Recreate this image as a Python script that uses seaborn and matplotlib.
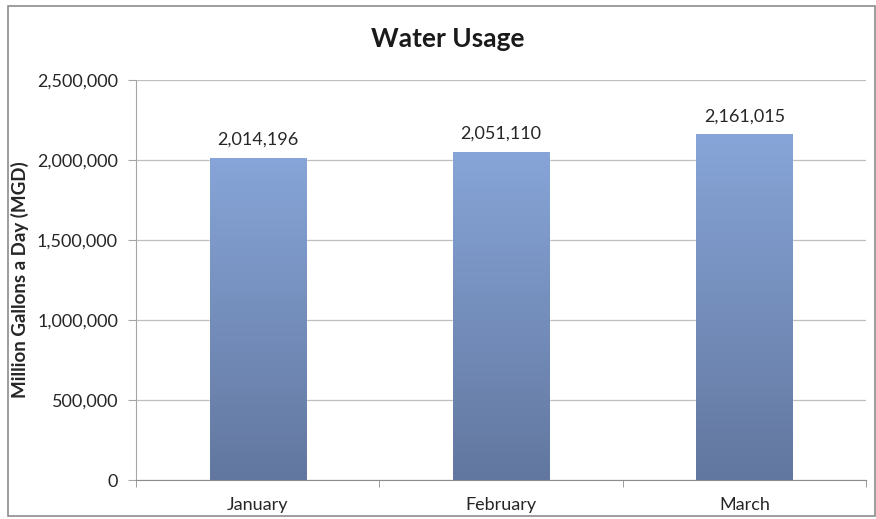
import numpy as np
import pandas as pd
import matplotlib.pyplot as plt
import matplotlib.patches as mpatches
from matplotlib.colors import LinearSegmentedColormap
from matplotlib.ticker import FuncFormatter, MultipleLocator
import seaborn as sns

# Data
months = ['January', 'February', 'March']
usage = [2014196, 2051110, 2161015]

df = pd.DataFrame({'Month': months, 'MGD': usage})

sns.set_style('white')
plt.rcParams['font.family'] = ['Lato', 'DejaVu Sans']

fig = plt.figure(figsize=(8.76, 5.19), dpi=100)
ax = fig.add_axes([0.1553, 0.0751, 0.8333, 0.7708])

sns.barplot(data=df, x='Month', y='MGD', color='#7b97c8', width=0.395, ax=ax,
            saturation=1)

ax.set_ylim(0, 2500000)
ax.set_xlim(-0.5, 2.5)
ax.yaxis.set_major_locator(MultipleLocator(500000))
ax.yaxis.set_major_formatter(FuncFormatter(lambda v, p: f'{int(v):,}'))
ax.grid(axis='y', color='#bfbfbf', linewidth=0.9)
ax.set_axisbelow(True)

# vertical gradient on each bar
cmap = LinearSegmentedColormap.from_list('bar', ['#62779f', '#87a5d8'])
grad = np.linspace(0, 1, 256).reshape(-1, 1)
for bar in list(ax.patches):
    x0, y0 = bar.get_x(), bar.get_y()
    w, h = bar.get_width(), bar.get_height()
    im = ax.imshow(grad, cmap=cmap, aspect='auto', origin='lower',
                   extent=[x0, x0 + w, y0, y0 + h], zorder=bar.get_zorder())
    im.set_clip_path(bar)
    ax.annotate(f'{int(h):,}', (x0 + w / 2, h), xytext=(0, 7),
                textcoords='offset points', ha='center', va='bottom',
                fontsize=13, color='#262626')
ax.set_xlim(-0.5, 2.5)
ax.set_ylim(0, 2500000)

for s in ['top', 'right']:
    ax.spines[s].set_visible(False)
ax.spines['left'].set_color('#a6a6a6')
ax.spines['bottom'].set_color('#8c8c8c')

ax.tick_params(axis='y', which='major', length=6, color='#a6a6a6',
               labelsize=13, labelcolor='#262626', left=True, pad=7)
ax.set_xticks([0, 1, 2])
ax.set_xticks([-0.5, 0.5, 1.5, 2.5], minor=True)
ax.tick_params(axis='x', which='major', length=0, labelsize=13,
               labelcolor='#262626', pad=12)
ax.tick_params(axis='x', which='minor', length=5, color='#8c8c8c', bottom=True)

ax.set_xlabel('')
ax.set_ylabel('Million Gallons a Day (MGD)', fontsize=13.5, fontweight='bold',
              color='#262626', va='center')
ax.yaxis.set_label_coords(-0.159, 0.5)
fig.text(0.511, 0.925, 'Water Usage', ha='center', va='center', fontsize=19,
         fontweight='bold', color='#1a1a1a')

# outer chart border
fig.patches.append(mpatches.Rectangle((0.009, 0.006), 0.99, 0.983,
                                      transform=fig.transFigure, fill=False,
                                      edgecolor='#8c8c8c', linewidth=1.2))

fig.savefig('out.png', dpi=100)
